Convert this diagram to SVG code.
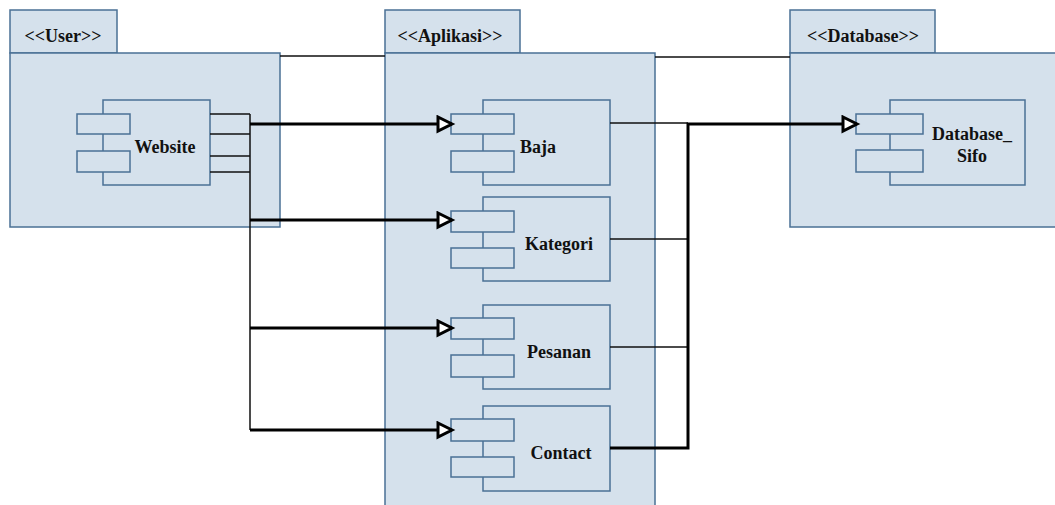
<svg xmlns="http://www.w3.org/2000/svg" width="1055" height="505" viewBox="0 0 1055 505">
<style>
.pk{fill:#d5e1ec;stroke:#4a7095;stroke-width:1.5}
.cp{fill:#d5e1ec;stroke:#4a7095;stroke-width:1.5}
.t{font-family:"Liberation Serif","Times New Roman",serif;font-weight:bold;font-size:18px;fill:#111;text-anchor:middle}
.thin{fill:none;stroke:#111;stroke-width:1.5}
.thick{fill:none;stroke:#000;stroke-width:3}
</style>
<defs>
<marker id="ah" markerUnits="userSpaceOnUse" markerWidth="20" markerHeight="20" refX="16" refY="9" orient="auto">
<path d="M2,2 L16,9 L2,16 z" fill="#fff" stroke="#000" stroke-width="3"/>
</marker>
</defs>
<rect width="1055" height="505" fill="#fff"/>
<g id="pkg-user">
<rect class="pk" x="10" y="10" width="107" height="43"/>
<rect class="pk" x="10" y="53" width="270" height="174"/>
<text class="t" x="63" y="42">&lt;&lt;User&gt;&gt;</text>
</g>
<g id="pkg-aplikasi">
<rect class="pk" x="385" y="10" width="135" height="43"/>
<rect class="pk" x="385" y="53" width="270" height="460"/>
<text class="t" x="450" y="42">&lt;&lt;Aplikasi&gt;&gt;</text>
</g>
<g id="pkg-database">
<rect class="pk" x="790" y="10" width="145" height="43"/>
<rect class="pk" x="790" y="53" width="270" height="174"/>
<text class="t" x="863" y="42">&lt;&lt;Database&gt;&gt;</text>
</g>
<g id="cmp-website">
<rect class="cp" x="103" y="100" width="107" height="85"/>
<rect class="cp" x="77" y="114" width="53" height="20"/>
<rect class="cp" x="77" y="151" width="53" height="21"/>
<text class="t" x="165" y="153">Website</text>
</g>
<g id="cmp-baja">
<rect class="cp" x="483" y="100" width="127" height="85"/>
<rect class="cp" x="451" y="114" width="63" height="20"/>
<rect class="cp" x="451" y="151" width="63" height="21"/>
<text class="t" x="538" y="153">Baja</text>
</g>
<g id="cmp-kategori">
<rect class="cp" x="483" y="197" width="127" height="84"/>
<rect class="cp" x="451" y="211" width="63" height="21"/>
<rect class="cp" x="451" y="248" width="63" height="20"/>
<text class="t" x="559" y="250">Kategori</text>
</g>
<g id="cmp-pesanan">
<rect class="cp" x="483" y="305" width="127" height="84"/>
<rect class="cp" x="451" y="318" width="63" height="21"/>
<rect class="cp" x="451" y="355" width="63" height="22"/>
<text class="t" x="559" y="358">Pesanan</text>
</g>
<g id="cmp-contact">
<rect class="cp" x="483" y="406" width="127" height="85"/>
<rect class="cp" x="451" y="419" width="63" height="22"/>
<rect class="cp" x="451" y="457" width="63" height="20"/>
<text class="t" x="561" y="459">Contact</text>
</g>
<g id="cmp-database-sifo">
<rect class="cp" x="890" y="100" width="135" height="85"/>
<rect class="cp" x="856" y="114" width="67" height="20"/>
<rect class="cp" x="856" y="150" width="67" height="22"/>
<text class="t" x="972" y="140">Database_</text>
<text class="t" x="972" y="162">Sifo</text>
</g>
<g id="connectors">
<path class="thin" d="M280,56 H385 M655,57 H790"/>
<path class="thin" d="M210,114 H250 M210,134 H250 M210,156 H250 M210,172 H250 M250,114 V430"/>
<path class="thick" d="M250,124 H452" marker-end="url(#ah)"/>
<path class="thick" d="M250,220 H452" marker-end="url(#ah)"/>
<path class="thick" d="M250,328 H452" marker-end="url(#ah)"/>
<path class="thick" d="M250,430 H452" marker-end="url(#ah)"/>
<path class="thin" d="M610,123 H688 M610,239 H688 M610,347 H688"/>
<path class="thick" d="M610,448 H688 V124 H857" marker-end="url(#ah)"/>
</g>
</svg>
